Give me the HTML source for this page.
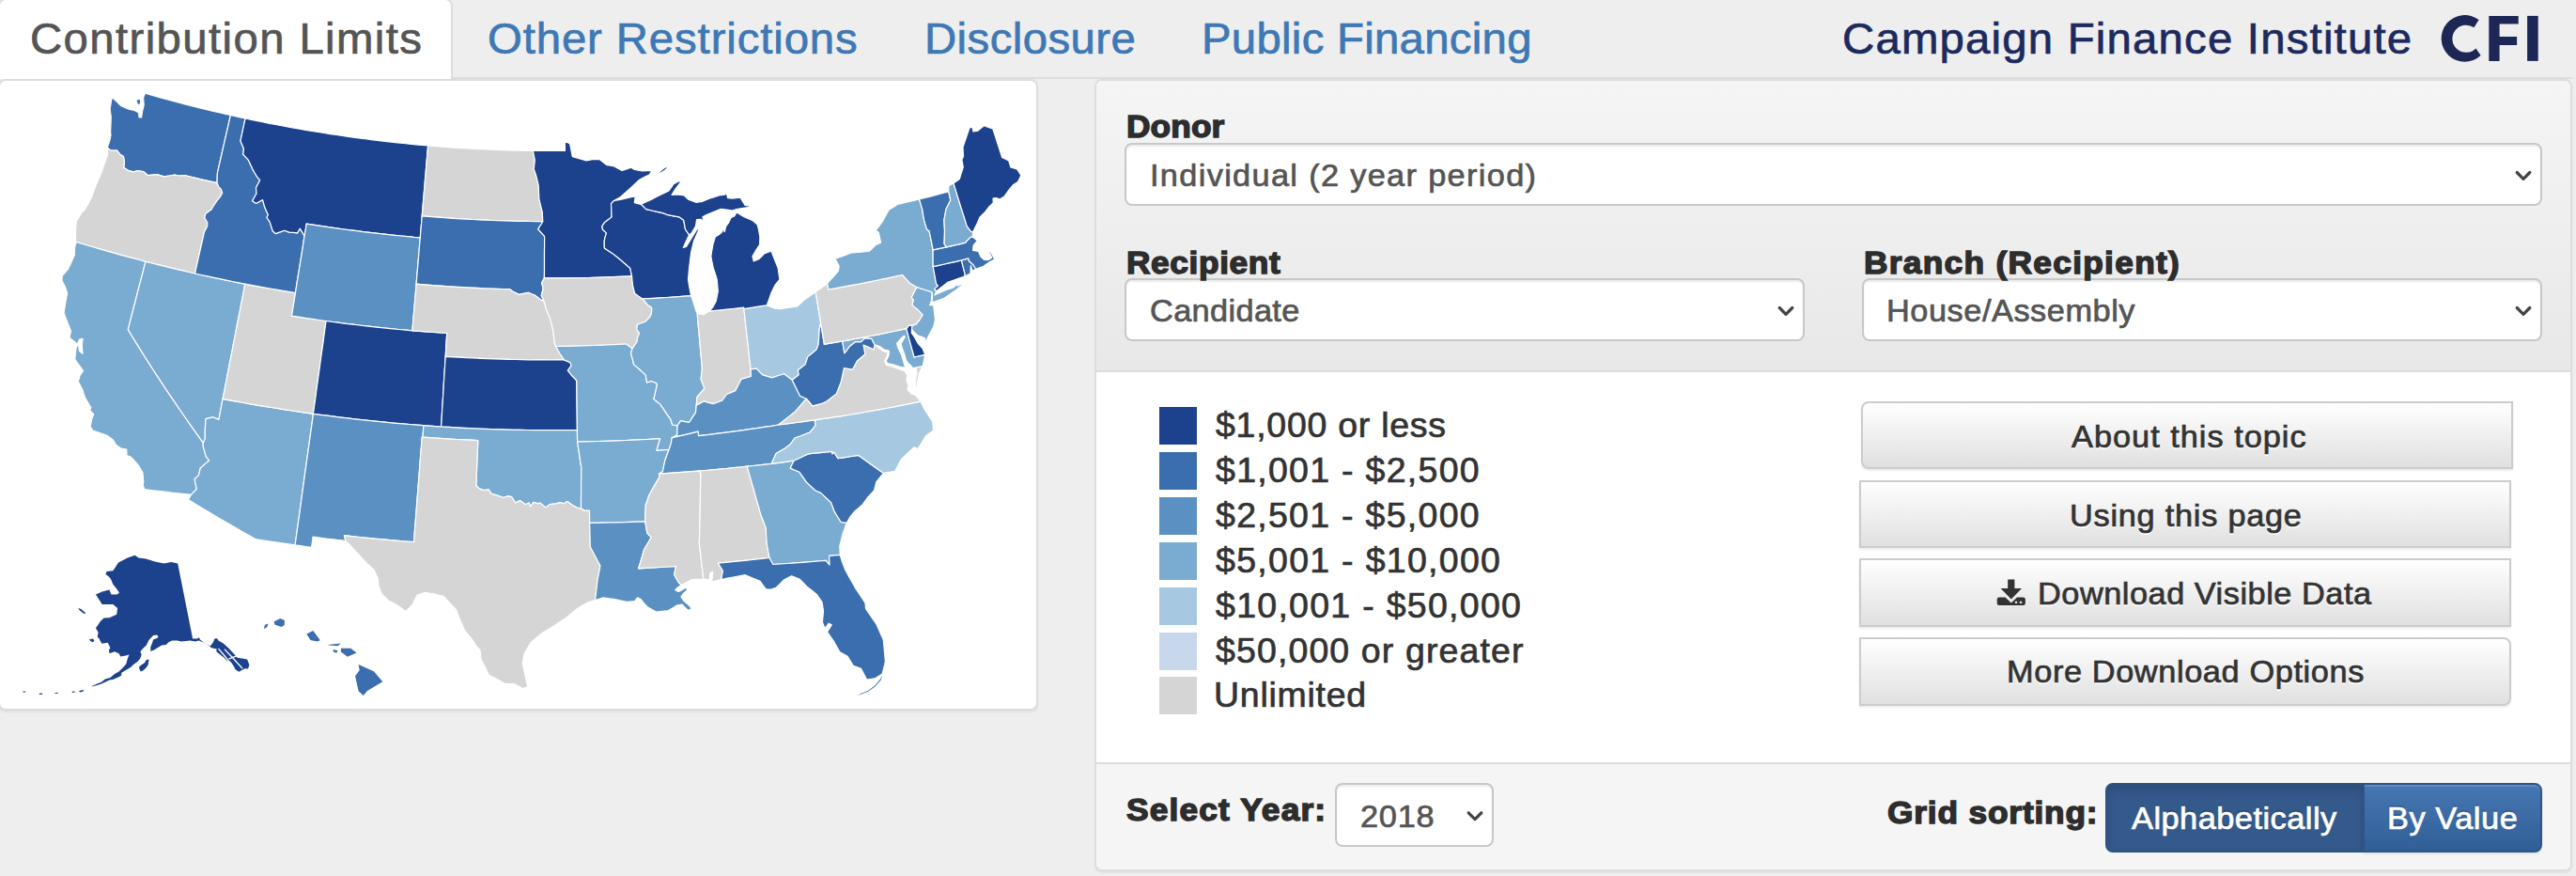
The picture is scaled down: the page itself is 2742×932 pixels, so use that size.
<!DOCTYPE html>
<html><head><meta charset="utf-8"><title>CFI</title>
<style>
*{box-sizing:border-box;margin:0;padding:0}
html,body{width:2742px;height:932px;overflow:hidden;background:#eee;font-family:"Liberation Sans",sans-serif;color:#333}
.abs{position:absolute}
.t{position:absolute;white-space:nowrap;line-height:1;transform-origin:0 0}
#tabline{left:0;top:82px;width:2738px;height:2px;background:#ddd}
#tab1{left:-2px;top:-2px;width:484px;height:86px;background:#fff;border:2px solid #ddd;border-bottom:none;border-radius:8px 8px 0 0}
#mappanel{left:-2px;top:84px;width:1107px;height:672px;background:#fff;border:2px solid #ddd;border-radius:8px;box-shadow:0 2px 2px rgba(0,0,0,.05)}
#rpanel{left:1165px;top:84px;width:1573px;height:843px;background:#fff;border:2px solid #ddd;border-radius:8px;box-shadow:0 2px 2px rgba(0,0,0,.05);overflow:hidden}
#rhead{left:0;top:0;width:1569px;height:310px;background:linear-gradient(#f5f5f5,#e8e8e8);border-bottom:2px solid #ddd}
#rfoot{left:0;top:725px;width:1569px;height:114px;background:#f5f5f5;border-top:2px solid #ddd}
.sel{position:absolute;background:#fff;border:2px solid #c8c8c8;border-radius:8px;box-shadow:inset 0 2px 2px rgba(0,0,0,.075)}
.btn{position:absolute;border:2px solid #ccc;background:linear-gradient(#fff,#e0e0e0);box-shadow:inset 0 2px 0 rgba(255,255,255,.15),0 2px 2px rgba(0,0,0,.075)}
.sw{position:absolute;width:40px;height:40px;left:1234px}
svg{position:absolute;left:0;top:0}
</style></head><body>
<div class="abs" id="tabline"></div>
<div class="abs" id="tab1"></div>
<div class="abs" id="mappanel"></div>
<svg width="1110" height="760" viewBox="0 0 1110 760" stroke="#fff" stroke-width="1.2" stroke-linejoin="round">
<path fill="#3b6eaf" d="M154.4 99.2L152.6 103.7L153.2 111.5L151.5 118.7L150.6 124.8L148.0 124.8L147.7 120.1L143.2 117.5L137.8 116.4L133.4 114.6L129.0 112.8L125.0 108.9L121.0 105.0L119.0 104.1L118.1 109.9L117.1 116.0L118.2 124.1L118.0 131.7L117.6 140.6L118.0 143.3L117.2 148.2L114.3 157.1L117.8 159.9L124.5 160.1L127.8 164.2L131.5 166.6L132.4 172.7L131.7 178.2L137.0 181.7L142.1 182.9L146.0 181.7L152.6 182.5L157.5 186.7L162.4 186.2L167.2 185.7L171.0 186.8L174.7 187.9L180.3 187.0L185.9 186.0L190.9 187.0L196.7 186.6L202.4 188.0L208.1 189.4L213.9 190.8L219.6 192.1L225.3 193.4L231.1 194.7L231.2 189.5L231.4 184.2L233.4 175.3L235.4 166.5L237.4 157.7L239.4 148.9L241.4 140.1L243.4 131.3L245.4 122.5L239.3 121.2L233.2 119.7L227.1 118.3L221.0 116.8L214.9 115.4L208.8 113.8L202.8 112.3L196.7 110.8L190.6 109.2L184.6 107.6L178.5 105.9L172.5 104.3L166.5 102.6L160.4 100.9L154.4 99.2ZM144.7 106.5L149.5 104.9L149.6 110.5L146.7 111.7L144.7 106.5Z"/>
<path fill="#d5d5d5" d="M114.3 157.1L114.7 164.1L112.6 169.9L110.5 175.7L108.3 182.8L105.4 189.4L102.5 196.0L99.8 203.3L97.2 210.5L93.5 217.1L89.8 223.8L87.3 225.6L84.3 230.6L81.2 235.7L80.8 241.3L80.4 246.9L80.3 255.9L81.1 257.5L87.8 259.5L94.5 261.5L101.2 263.5L107.9 265.4L114.6 267.3L121.3 269.2L128.0 271.1L134.7 272.9L141.4 274.7L148.2 276.5L154.9 278.3L161.5 280.0L168.0 281.6L174.6 283.2L181.2 284.8L187.7 286.4L194.3 287.9L200.9 289.5L207.5 291.0L209.5 282.1L211.5 273.2L213.5 264.4L215.5 255.5L217.5 246.6L220.7 240.5L220.8 236.7L217.8 231.7L218.8 227.4L225.2 222.8L226.7 219.8L230.7 213.9L234.4 209.4L236.7 205.3L235.3 201.2L232.7 198.6L231.1 194.7L225.3 193.4L219.6 192.1L213.9 190.8L208.1 189.4L202.4 188.0L196.7 186.6L190.9 187.0L185.9 186.0L180.3 187.0L174.7 187.9L171.0 186.8L167.2 185.7L162.4 186.2L157.5 186.7L152.6 182.5L146.0 181.7L142.1 182.9L137.0 181.7L131.7 178.2L132.4 172.7L131.5 166.6L127.8 164.2L124.5 160.1L117.8 159.9L114.3 157.1Z"/>
<path fill="#7aabd1" d="M81.1 257.5L79.5 263.5L79.4 271.3L77.3 275.8L75.3 280.4L72.6 286.1L69.4 289.8L66.2 293.5L65.9 298.4L69.3 305.1L71.6 311.8L70.0 320.4L69.0 326.6L68.0 332.9L70.0 338.1L72.7 345.1L75.5 352.0L74.0 359.3L79.2 363.4L82.4 366.2L84.5 361.1L88.1 360.3L87.2 367.0L88.0 376.3L84.4 373.2L83.7 367.3L81.8 367.6L80.8 371.7L80.3 377.0L79.8 382.3L82.5 386.0L85.2 389.8L88.5 394.6L85.3 398.8L83.3 406.0L85.5 410.3L87.7 414.5L89.2 419.1L90.8 423.6L93.6 428.3L96.9 433.8L95.5 436.5L99.8 440.7L97.7 446.1L96.1 453.9L98.8 458.0L106.1 460.5L113.5 463.1L117.0 465.6L120.6 468.2L123.5 473.3L128.8 477.2L134.8 478.1L134.9 484.5L139.2 486.1L143.7 491.0L147.5 495.4L152.0 503.1L152.7 512.2L152.3 516.7L153.9 520.6L161.0 521.5L168.1 522.4L175.2 523.2L182.2 524.0L189.3 524.8L196.4 525.6L203.5 526.3L209.3 520.4L208.2 515.1L207.2 509.8L211.5 505.6L213.2 498.3L218.8 493.1L222.7 490.0L219.2 485.6L217.7 480.2L216.2 474.8L216.3 471.1L211.3 464.1L206.3 457.1L201.3 450.1L196.4 443.0L191.5 436.0L186.7 428.9L181.9 421.9L177.1 414.8L172.4 407.7L167.7 400.6L163.1 393.5L158.5 386.4L154.0 379.2L149.5 372.1L145.0 364.9L140.6 357.8L136.3 350.6L138.6 341.6L140.9 332.5L143.3 323.5L145.6 314.4L147.9 305.4L150.3 296.3L152.6 287.3L154.9 278.3L148.2 276.5L141.4 274.7L134.7 272.9L128.0 271.1L121.3 269.2L114.6 267.3L107.9 265.4L101.2 263.5L94.5 261.5L87.8 259.5L81.1 257.5Z"/>
<path fill="#7aabd1" d="M154.9 278.3L152.6 287.3L150.3 296.3L147.9 305.4L145.6 314.4L143.3 323.5L140.9 332.5L138.6 341.6L136.3 350.6L140.6 357.8L145.0 364.9L149.5 372.1L154.0 379.2L158.5 386.4L163.1 393.5L167.7 400.6L172.4 407.7L177.1 414.8L181.9 421.9L186.7 428.9L191.5 436.0L196.4 443.0L201.3 450.1L206.3 457.1L211.3 464.1L216.3 471.1L218.3 467.1L218.3 461.7L218.3 456.2L218.7 451.0L219.1 445.7L226.4 443.8L232.9 446.4L234.3 439.0L235.7 431.7L237.1 424.4L239.0 414.9L240.8 405.5L242.6 396.1L244.4 386.7L246.3 377.3L248.1 367.9L249.9 358.5L251.7 349.1L253.5 339.7L255.4 330.3L257.2 320.9L259.0 311.5L260.8 302.1L254.1 300.8L247.5 299.5L240.8 298.1L234.1 296.7L227.5 295.3L220.8 293.9L214.2 292.5L207.5 291.0L200.9 289.5L194.3 287.9L187.7 286.4L181.2 284.8L174.6 283.2L168.0 281.6L161.5 280.0L154.9 278.3Z"/>
<path fill="#7aabd1" d="M237.1 424.4L235.7 431.7L234.3 439.0L232.9 446.4L226.4 443.8L219.1 445.7L218.7 451.0L218.3 456.2L218.3 461.7L218.3 467.1L216.3 471.1L216.2 474.8L217.7 480.2L219.2 485.6L222.7 490.0L218.8 493.1L213.2 498.3L211.5 505.6L207.2 509.8L208.2 515.1L209.3 520.4L203.5 526.3L200.5 531.5L207.5 535.9L214.6 540.2L221.7 544.5L228.8 548.7L236.0 552.9L243.2 557.1L250.4 561.3L257.6 565.5L264.9 569.6L272.2 573.7L279.2 574.8L286.1 575.9L293.1 576.9L300.1 577.9L307.1 578.9L314.1 579.9L315.4 570.6L316.7 561.4L318.0 552.1L319.3 542.8L320.6 533.5L321.8 524.2L323.1 514.9L324.4 505.5L325.7 496.2L327.0 486.9L328.3 477.6L329.6 468.2L330.9 458.9L332.2 449.6L333.4 440.3L326.0 439.2L318.6 438.1L311.1 437.0L303.7 435.9L296.3 434.7L288.9 433.5L281.5 432.3L274.1 431.1L266.7 429.8L259.3 428.5L251.9 427.1L244.5 425.8L237.1 424.4Z"/>
<path fill="#d5d5d5" d="M237.1 424.4L244.5 425.8L251.9 427.1L259.3 428.5L266.7 429.8L274.1 431.1L281.5 432.3L288.9 433.5L296.3 434.7L303.7 435.9L311.1 437.0L318.6 438.1L326.0 439.2L333.4 440.3L334.8 430.4L336.2 420.5L337.5 410.6L338.9 400.7L340.3 390.9L341.6 381.0L343.0 371.1L344.4 361.3L345.7 351.4L347.1 341.5L339.8 340.5L332.5 339.4L325.1 338.4L317.8 337.2L310.5 336.1L311.8 327.9L313.2 319.7L314.5 311.5L307.7 310.4L301.0 309.3L294.3 308.2L287.6 307.0L280.9 305.8L274.2 304.6L267.5 303.4L260.8 302.1L259.0 311.5L257.2 320.9L255.4 330.3L253.5 339.7L251.7 349.1L249.9 358.5L248.1 367.9L246.3 377.3L244.4 386.7L242.6 396.1L240.8 405.5L239.0 414.9L237.1 424.4Z"/>
<path fill="#3b6eaf" d="M245.4 122.5L250.6 123.7L255.9 124.9L261.1 126.0L259.4 133.9L257.7 141.9L256.0 149.9L257.7 154.0L259.4 158.1L258.9 164.3L261.7 167.4L264.5 170.4L266.6 175.0L268.7 179.6L271.0 183.7L273.4 187.8L276.7 191.7L272.5 199.7L273.0 206.0L268.6 213.7L272.7 216.5L276.1 214.6L279.6 212.6L281.7 220.3L283.5 224.4L285.4 228.5L284.0 231.5L287.2 236.1L288.7 240.9L290.3 245.7L293.3 248.6L298.1 246.9L302.8 245.2L307.9 247.1L312.3 247.4L316.6 247.8L319.2 243.2L322.0 247.4L324.1 251.0L322.7 259.6L321.4 268.3L320.0 276.9L318.6 285.5L317.2 294.2L315.8 302.9L314.5 311.5L307.7 310.4L301.0 309.3L294.3 308.2L287.6 307.0L280.9 305.8L274.2 304.6L267.5 303.4L260.8 302.1L254.1 300.8L247.5 299.5L240.8 298.1L234.1 296.7L227.5 295.3L220.8 293.9L214.2 292.5L207.5 291.0L209.5 282.1L211.5 273.2L213.5 264.4L215.5 255.5L217.5 246.6L220.7 240.5L220.8 236.7L217.8 231.7L218.8 227.4L225.2 222.8L226.7 219.8L230.7 213.9L234.4 209.4L236.7 205.3L235.3 201.2L232.7 198.6L231.1 194.7L231.2 189.5L231.4 184.2L233.4 175.3L235.4 166.5L237.4 157.7L239.4 148.9L241.4 140.1L243.4 131.3L245.4 122.5Z"/>
<path fill="#1c418d" d="M261.1 126.0L267.5 127.3L273.9 128.7L280.4 130.0L286.8 131.3L293.2 132.5L299.7 133.7L306.1 134.9L312.6 136.1L319.0 137.2L325.5 138.4L332.0 139.5L338.4 140.5L344.9 141.5L351.4 142.6L357.9 143.5L364.4 144.5L370.9 145.4L377.4 146.3L383.9 147.2L390.4 148.0L396.9 148.8L403.4 149.6L409.9 150.4L416.4 151.1L422.9 151.8L429.5 152.5L436.0 153.2L442.5 153.8L449.1 154.4L455.6 154.9L454.8 164.3L454.0 173.6L453.2 182.9L452.4 192.3L451.6 201.7L450.8 211.0L450.0 220.4L449.2 229.8L448.6 237.5L447.9 245.2L447.3 252.8L440.5 252.3L433.8 251.6L427.0 251.0L420.3 250.3L413.5 249.6L406.8 248.9L400.1 248.2L393.3 247.4L386.6 246.6L379.9 245.7L373.1 244.9L366.4 244.0L359.7 243.1L353.0 242.1L346.3 241.1L339.6 240.1L332.9 239.1L326.2 238.1L325.2 244.5L324.1 251.0L322.0 247.4L319.2 243.2L316.6 247.8L312.3 247.4L307.9 247.1L302.8 245.2L298.1 246.9L293.3 248.6L290.3 245.7L288.7 240.9L287.2 236.1L284.0 231.5L285.4 228.5L283.5 224.4L281.7 220.3L279.6 212.6L276.1 214.6L272.7 216.5L268.6 213.7L273.0 206.0L272.5 199.7L276.7 191.7L273.4 187.8L271.0 183.7L268.7 179.6L266.6 175.0L264.5 170.4L261.7 167.4L258.9 164.3L259.4 158.1L257.7 154.0L256.0 149.9L257.7 141.9L259.4 133.9L261.1 126.0Z"/>
<path fill="#5a90c2" d="M324.1 251.0L325.2 244.5L326.2 238.1L332.9 239.1L339.6 240.1L346.3 241.1L353.0 242.1L359.7 243.1L366.4 244.0L373.1 244.9L379.9 245.7L386.6 246.6L393.3 247.4L400.1 248.2L406.8 248.9L413.5 249.6L420.3 250.3L427.0 251.0L433.8 251.6L440.5 252.3L447.3 252.8L446.4 262.7L445.6 272.6L444.8 282.4L443.9 292.3L443.1 302.2L442.3 312.1L441.4 322.0L440.6 331.9L439.7 341.8L438.9 351.8L431.8 351.1L424.7 350.5L417.7 349.8L410.6 349.1L403.5 348.4L396.5 347.6L389.4 346.8L382.3 346.0L375.3 345.2L368.2 344.3L361.2 343.4L354.1 342.5L347.1 341.5L339.8 340.5L332.5 339.4L325.1 338.4L317.8 337.2L310.5 336.1L311.8 327.9L313.2 319.7L314.5 311.5L315.8 302.9L317.2 294.2L318.6 285.5L320.0 276.9L321.4 268.3L322.7 259.6L324.1 251.0Z"/>
<path fill="#1c418d" d="M347.1 341.5L354.1 342.5L361.2 343.4L368.2 344.3L375.3 345.2L382.3 346.0L389.4 346.8L396.5 347.6L403.5 348.4L410.6 349.1L417.7 349.8L424.7 350.5L431.8 351.1L438.9 351.8L446.3 352.4L453.6 352.9L461.0 353.5L468.4 354.0L475.7 354.5L475.2 362.8L474.7 371.1L474.2 379.3L473.6 388.7L473.0 398.0L472.4 407.3L471.9 416.7L471.3 426.0L470.7 435.3L470.2 444.6L469.6 454.0L463.4 453.6L457.1 453.1L450.9 452.7L443.5 452.1L436.2 451.5L428.8 450.9L421.5 450.3L414.1 449.6L406.8 448.9L399.4 448.2L392.1 447.4L384.7 446.6L377.4 445.8L370.1 444.9L362.7 444.1L355.4 443.2L348.1 442.2L340.8 441.3L333.4 440.3L334.8 430.4L336.2 420.5L337.5 410.6L338.9 400.7L340.3 390.9L341.6 381.0L343.0 371.1L344.4 361.3L345.7 351.4L347.1 341.5Z"/>
<path fill="#5a90c2" d="M333.4 440.3L340.8 441.3L348.1 442.2L355.4 443.2L362.7 444.1L370.1 444.9L377.4 445.8L384.7 446.6L392.1 447.4L399.4 448.2L406.8 448.9L414.1 449.6L421.5 450.3L428.8 450.9L436.2 451.5L443.5 452.1L450.9 452.7L450.4 458.9L450.0 465.1L449.2 465.1L448.5 474.4L447.7 483.7L447.0 493.0L446.3 502.3L445.6 511.6L444.8 520.9L444.1 530.2L443.4 539.5L442.7 548.8L441.9 558.1L441.2 567.4L440.5 576.6L432.3 576.0L424.0 575.4L415.8 574.7L407.5 573.9L399.3 573.2L391.1 572.3L382.9 571.5L374.7 570.6L366.4 569.7L367.9 575.4L360.9 574.6L354.0 573.8L347.0 573.0L340.0 572.1L333.1 571.2L332.4 576.7L331.6 582.3L325.8 581.5L320.0 580.7L314.1 579.9L315.4 570.6L316.7 561.4L318.0 552.1L319.3 542.8L320.6 533.5L321.8 524.2L323.1 514.9L324.4 505.5L325.7 496.2L327.0 486.9L328.3 477.6L329.6 468.2L330.9 458.9L332.2 449.6L333.4 440.3Z"/>
<path fill="#d5d5d5" d="M455.6 154.9L461.8 155.5L468.0 155.9L474.2 156.4L480.4 156.9L486.6 157.3L492.8 157.7L499.0 158.0L505.2 158.4L511.4 158.7L517.6 159.0L523.8 159.2L530.0 159.5L536.2 159.7L542.4 159.9L548.6 160.1L554.8 160.2L561.1 160.3L567.3 160.4L568.3 165.3L569.3 170.2L568.8 175.1L568.3 180.0L570.8 187.3L572.0 192.2L573.2 197.2L573.5 204.5L573.9 211.9L575.5 218.7L577.2 225.4L577.5 230.6L577.8 235.7L571.0 235.6L564.3 235.5L557.5 235.4L550.7 235.3L543.9 235.1L537.2 234.9L530.4 234.7L523.6 234.5L516.9 234.2L510.1 233.9L503.3 233.5L496.6 233.2L489.8 232.8L483.0 232.4L476.3 231.9L469.5 231.4L462.7 230.9L456.0 230.4L449.2 229.8L450.0 220.4L450.8 211.0L451.6 201.7L452.4 192.3L453.2 182.9L454.0 173.6L454.8 164.3L455.6 154.9Z"/>
<path fill="#3b6eaf" d="M449.2 229.8L456.0 230.4L462.7 230.9L469.5 231.4L476.3 231.9L483.0 232.4L489.8 232.8L496.6 233.2L503.3 233.5L510.1 233.9L516.9 234.2L523.6 234.5L530.4 234.7L537.2 234.9L543.9 235.1L550.7 235.3L557.5 235.4L564.3 235.5L571.0 235.6L577.8 235.7L575.3 239.8L572.8 243.9L576.2 247.6L579.6 251.4L579.6 260.3L579.5 269.2L579.5 278.1L579.5 287.0L579.4 295.9L576.7 300.9L578.1 307.1L576.3 314.5L579.3 321.0L574.8 318.2L569.4 314.2L565.8 312.8L562.3 311.4L557.3 312.4L552.3 313.4L546.1 310.3L542.6 307.7L535.4 307.5L528.3 307.3L521.2 307.0L514.1 306.8L507.0 306.4L499.9 306.1L492.8 305.7L485.7 305.3L478.6 304.9L471.5 304.4L464.4 303.9L457.3 303.4L450.2 302.8L443.1 302.2L443.9 292.3L444.8 282.4L445.6 272.6L446.4 262.7L447.3 252.8L447.9 245.2L448.6 237.5L449.2 229.8Z"/>
<path fill="#d5d5d5" d="M443.1 302.2L450.2 302.8L457.3 303.4L464.4 303.9L471.5 304.4L478.6 304.9L485.7 305.3L492.8 305.7L499.9 306.1L507.0 306.4L514.1 306.8L521.2 307.0L528.3 307.3L535.4 307.5L542.6 307.7L546.1 310.3L552.3 313.4L557.3 312.4L562.3 311.4L565.8 312.8L569.4 314.2L574.8 318.2L579.3 321.0L581.1 328.2L583.2 333.2L585.2 338.1L587.4 345.6L588.9 353.1L589.6 358.7L590.2 364.3L591.7 368.5L595.8 376.0L600.4 382.9L592.9 382.9L585.5 383.0L578.1 382.9L570.7 382.9L563.2 382.8L555.8 382.7L548.4 382.5L540.9 382.3L533.5 382.1L526.1 381.9L518.7 381.6L511.2 381.3L503.8 381.0L496.4 380.6L489.0 380.2L481.6 379.8L474.2 379.3L474.7 371.1L475.2 362.8L475.7 354.5L468.4 354.0L461.0 353.5L453.6 352.9L446.3 352.4L438.9 351.8L439.7 341.8L440.6 331.9L441.4 322.0L442.3 312.1L443.1 302.2Z"/>
<path fill="#1c418d" d="M474.2 379.3L481.6 379.8L489.0 380.2L496.4 380.6L503.8 381.0L511.2 381.3L518.7 381.6L526.1 381.9L533.5 382.1L540.9 382.3L548.4 382.5L555.8 382.7L563.2 382.8L570.7 382.9L578.1 382.9L585.5 383.0L592.9 382.9L600.4 382.9L607.1 385.8L608.1 389.1L604.4 394.1L608.2 399.0L613.8 404.9L613.9 413.7L614.0 422.5L614.1 431.2L614.2 440.0L614.3 448.8L614.4 457.5L606.8 457.6L599.1 457.7L591.5 457.7L583.9 457.7L576.3 457.7L568.6 457.6L561.0 457.5L553.4 457.4L545.8 457.3L538.1 457.1L530.5 456.8L522.9 456.6L515.3 456.3L507.7 456.0L500.0 455.7L492.4 455.3L484.8 454.9L477.2 454.4L469.6 454.0L470.2 444.6L470.7 435.3L471.3 426.0L471.9 416.7L472.4 407.3L473.0 398.0L473.6 388.7L474.2 379.3Z"/>
<path fill="#7aabd1" d="M469.6 454.0L477.2 454.4L484.8 454.9L492.4 455.3L500.0 455.7L507.7 456.0L515.3 456.3L522.9 456.6L530.5 456.8L538.1 457.1L545.8 457.3L553.4 457.4L561.0 457.5L568.6 457.6L576.3 457.7L583.9 457.7L591.5 457.7L599.1 457.7L606.8 457.6L614.4 457.5L614.5 463.8L614.6 470.0L616.0 479.2L617.3 488.4L618.8 497.6L618.7 506.3L618.6 515.0L618.6 523.7L618.5 532.4L618.5 541.1L614.2 540.0L609.4 537.5L603.7 533.6L599.9 535.9L596.6 534.6L591.7 535.9L585.4 536.7L580.7 539.9L575.0 535.1L572.6 535.9L567.9 534.3L564.6 539.0L563.0 535.0L559.1 536.7L553.5 532.6L548.6 535.0L544.7 528.7L540.6 527.9L535.9 529.5L529.5 527.1L523.1 525.4L520.0 520.8L515.1 521.6L510.3 519.9L506.8 516.8L507.2 507.2L507.6 497.5L508.0 487.8L508.4 478.2L508.8 468.5L501.5 468.2L494.1 467.8L486.8 467.5L479.4 467.1L472.0 466.6L464.7 466.1L457.3 465.6L450.0 465.1L450.4 458.9L450.9 452.7L457.1 453.1L463.4 453.6L469.6 454.0Z"/>
<path fill="#d5d5d5" d="M450.0 465.1L457.3 465.6L464.7 466.1L472.0 466.6L479.4 467.1L486.8 467.5L494.1 467.8L501.5 468.2L508.8 468.5L508.4 478.2L508.0 487.8L507.6 497.5L507.2 507.2L506.8 516.8L510.3 519.9L515.1 521.6L520.0 520.8L523.1 525.4L529.5 527.1L535.9 529.5L540.6 527.9L544.7 528.7L548.6 535.0L553.5 532.6L559.1 536.7L563.0 535.0L564.6 539.0L567.9 534.3L572.6 535.9L575.0 535.1L580.7 539.9L585.4 536.7L591.7 535.9L596.6 534.6L599.9 535.9L603.7 533.6L609.4 537.5L614.2 540.0L618.5 541.1L622.2 543.1L627.5 543.2L627.6 549.8L627.7 556.4L627.9 564.9L628.1 573.4L628.3 581.9L630.9 586.7L633.5 591.5L636.2 596.8L639.0 602.0L637.6 609.1L636.2 616.2L635.3 623.6L634.4 631.1L633.5 638.5L629.3 639.8L625.0 641.2L619.9 644.2L614.8 647.2L608.6 652.4L602.4 657.5L596.2 661.6L590.0 665.7L584.0 669.4L577.9 673.0L571.6 678.2L565.3 683.3L561.7 689.4L558.1 695.5L557.2 700.6L556.2 705.8L557.6 711.9L558.9 718.1L560.3 724.4L561.7 730.8L556.3 732.5L552.2 730.2L548.1 727.9L542.9 727.7L537.8 727.5L533.2 724.9L528.5 722.3L524.4 720.2L520.2 718.2L517.1 711.0L514.6 706.3L512.1 701.7L511.5 696.6L510.9 691.6L506.9 687.3L504.3 683.2L501.7 679.2L498.2 675.1L494.6 671.0L492.0 664.8L489.3 658.7L487.3 653.5L485.3 648.3L479.2 642.1L475.6 638.2L472.1 634.3L467.4 633.3L462.8 632.2L457.6 631.3L452.4 630.3L444.2 633.0L441.6 638.1L439.0 643.3L435.5 646.9L432.0 650.4L426.8 646.8L421.7 643.2L417.6 641.1L413.4 639.0L409.8 635.5L406.3 632.0L403.1 623.7L402.2 615.5L400.1 610.8L397.9 606.1L394.4 603.0L390.9 600.0L385.7 594.4L380.6 588.7L376.4 584.2L372.3 579.6L367.9 575.4L366.4 569.7L374.7 570.6L382.9 571.5L391.1 572.3L399.3 573.2L407.5 573.9L415.8 574.7L424.0 575.4L432.3 576.0L440.5 576.6L441.2 567.4L441.9 558.1L442.7 548.8L443.4 539.5L444.1 530.2L444.8 520.9L445.6 511.6L446.3 502.3L447.0 493.0L447.7 483.7L448.5 474.4L449.2 465.1L450.0 465.1Z"/>
<path fill="#1c418d" d="M567.3 160.4L573.0 160.5L578.6 160.5L584.3 160.5L590.0 160.5L595.7 160.5L601.4 160.5L601.3 151.2L604.6 151.7L606.7 153.1L608.0 159.9L609.3 166.7L612.8 167.6L616.3 168.6L620.0 169.7L623.8 170.8L627.1 170.3L630.3 169.7L634.2 169.6L638.1 169.5L641.7 172.4L645.4 175.3L649.6 176.2L653.8 177.0L657.9 179.2L662.1 181.5L666.9 179.9L671.8 178.3L674.7 180.1L679.2 181.1L683.6 182.0L688.8 181.7L694.0 181.4L691.4 185.7L686.2 188.4L681.0 191.0L675.9 195.7L670.8 200.4L665.7 205.0L660.6 209.5L657.1 211.5L653.6 213.5L650.5 216.6L650.8 223.8L651.1 230.9L648.4 233.0L643.4 236.8L640.9 240.6L641.5 244.3L645.5 247.9L643.9 252.9L643.2 256.6L643.4 264.0L647.9 267.0L652.4 269.9L656.0 272.8L659.7 275.8L665.2 280.5L670.7 285.2L672.6 293.8L665.9 294.1L659.3 294.4L652.6 294.7L646.0 294.9L639.3 295.1L632.7 295.3L626.0 295.5L619.4 295.6L612.7 295.7L606.1 295.8L599.4 295.9L592.7 295.9L586.1 295.9L579.4 295.9L579.5 287.0L579.5 278.1L579.5 269.2L579.6 260.3L579.6 251.4L576.2 247.6L572.8 243.9L575.3 239.8L577.8 235.7L577.5 230.6L577.2 225.4L575.5 218.7L573.9 211.9L573.5 204.5L573.2 197.2L572.0 192.2L570.8 187.3L568.3 180.0L568.8 175.1L569.3 170.2L568.3 165.3L567.3 160.4Z"/>
<path fill="#d5d5d5" d="M579.4 295.9L586.1 295.9L592.7 295.9L599.4 295.9L606.1 295.8L612.7 295.7L619.4 295.6L626.0 295.5L632.7 295.3L639.3 295.1L646.0 294.9L652.6 294.7L659.3 294.4L665.9 294.1L672.6 293.8L673.0 298.7L673.5 303.7L675.7 312.3L679.8 315.2L684.0 318.0L689.0 324.0L693.8 327.4L693.4 333.9L691.6 337.5L686.8 342.3L682.6 343.8L678.5 345.2L677.7 350.7L680.6 354.3L678.2 360.7L678.3 363.2L675.7 367.0L673.1 370.9L666.7 366.0L659.9 366.3L653.1 366.7L646.3 367.0L639.5 367.3L632.7 367.5L625.8 367.7L619.0 368.0L612.2 368.1L605.4 368.3L598.5 368.4L591.7 368.5L590.2 364.3L589.6 358.7L588.9 353.1L587.4 345.6L585.2 338.1L583.2 333.2L581.1 328.2L579.3 321.0L576.3 314.5L578.1 307.1L576.7 300.9L579.4 295.9Z"/>
<path fill="#7aabd1" d="M591.7 368.5L598.5 368.4L605.4 368.3L612.2 368.1L619.0 368.0L625.8 367.7L632.7 367.5L639.5 367.3L646.3 367.0L653.1 366.7L659.9 366.3L666.7 366.0L673.1 370.9L671.5 376.0L673.5 382.6L674.5 387.6L680.8 393.0L684.0 395.9L687.2 398.9L688.6 406.8L693.3 405.5L698.1 407.2L699.4 409.1L698.5 413.7L697.2 419.1L695.9 424.6L699.5 427.5L703.0 430.4L706.6 435.6L710.1 440.8L713.7 445.9L715.7 452.0L721.1 452.9L720.9 457.9L720.8 462.9L715.1 465.8L714.5 470.9L712.0 478.5L705.4 478.9L698.8 479.3L700.6 473.0L702.4 466.6L695.0 467.1L687.7 467.5L680.4 467.9L673.1 468.2L665.8 468.5L658.5 468.8L651.2 469.1L643.8 469.3L636.5 469.5L629.2 469.7L621.9 469.9L614.6 470.0L614.5 463.8L614.4 457.5L614.3 448.8L614.2 440.0L614.1 431.2L614.0 422.5L613.9 413.7L613.8 404.9L608.2 399.0L604.4 394.1L608.1 389.1L607.1 385.8L600.4 382.9L595.8 376.0L591.7 368.5Z"/>
<path fill="#7aabd1" d="M614.6 470.0L621.9 469.9L629.2 469.7L636.5 469.5L643.8 469.3L651.2 469.1L658.5 468.8L665.8 468.5L673.1 468.2L680.4 467.9L687.7 467.5L695.0 467.1L702.4 466.6L700.6 473.0L698.8 479.3L705.4 478.9L712.0 478.5L709.9 484.3L707.8 490.0L706.6 495.7L705.5 501.4L701.7 504.1L701.9 507.8L699.1 512.4L696.4 516.9L693.6 522.0L690.8 527.2L689.1 532.2L687.3 537.3L687.1 542.3L686.8 547.3L686.8 554.8L679.4 555.1L672.0 555.3L664.6 555.6L657.3 555.8L649.9 556.0L642.5 556.1L635.1 556.3L627.7 556.4L627.6 549.8L627.5 543.2L622.2 543.1L618.5 541.1L618.5 532.4L618.6 523.7L618.6 515.0L618.7 506.3L618.8 497.6L617.3 488.4L616.0 479.2L614.6 470.0Z"/>
<path fill="#5a90c2" d="M627.7 556.4L635.1 556.3L642.5 556.1L649.9 556.0L657.3 555.8L664.6 555.6L672.0 555.3L679.4 555.1L686.8 554.8L687.8 560.9L688.8 567.1L693.2 571.8L689.4 578.2L685.6 584.6L683.8 590.9L682.0 597.2L679.6 604.8L687.6 604.4L695.6 604.0L703.6 603.5L711.6 603.0L719.6 602.5L717.6 611.3L720.0 615.5L722.4 619.7L725.2 622.5L721.5 625.0L718.7 627.6L722.2 629.4L726.0 627.6L730.5 624.8L731.6 627.7L727.7 631.2L725.0 634.9L727.9 639.4L734.3 644.9L736.0 647.7L732.4 649.5L726.0 643.2L720.4 644.1L715.9 646.9L711.5 649.6L705.0 650.4L698.6 651.1L694.0 648.5L689.5 645.9L685.8 642.3L682.2 637.6L678.4 635.8L675.8 639.6L667.5 640.4L661.1 639.1L654.7 637.7L648.4 636.8L642.0 635.8L637.8 637.2L633.5 638.5L634.4 631.1L635.3 623.6L636.2 616.2L637.6 609.1L639.0 602.0L636.2 596.8L633.5 591.5L630.9 586.7L628.3 581.9L628.1 573.4L627.9 564.9L627.7 556.4Z"/>
<path fill="#1c418d" d="M653.6 213.5L657.1 212.9L660.5 212.3L665.6 211.2L670.8 210.0L676.3 208.8L675.3 215.7L680.1 216.9L682.4 217.3L687.8 222.6L693.7 224.0L699.7 225.3L705.6 226.6L710.9 228.7L717.0 229.8L723.1 230.9L727.7 234.2L728.6 239.1L729.5 244.0L733.5 249.9L730.5 256.3L727.3 263.5L730.5 262.5L733.6 257.4L736.7 252.3L739.2 248.2L741.7 244.1L744.4 241.4L742.9 246.5L740.8 251.4L738.6 256.3L737.1 262.4L735.6 268.5L734.6 276.8L733.6 285.1L733.0 291.3L732.5 297.4L733.5 303.6L734.6 309.7L735.6 314.6L729.1 315.1L722.7 315.6L716.2 316.1L709.8 316.5L703.3 316.9L696.9 317.3L690.4 317.7L684.0 318.0L679.8 315.2L675.7 312.3L673.5 303.7L673.0 298.7L672.6 293.8L670.7 285.2L665.2 280.5L659.7 275.8L656.0 272.8L652.4 269.9L647.9 267.0L643.4 264.0L643.2 256.6L643.9 252.9L645.5 247.9L641.5 244.3L640.9 240.6L643.4 236.8L648.4 233.0L651.1 230.9L650.8 223.8L650.5 216.6L653.6 213.5Z"/>
<path fill="#7aabd1" d="M684.0 318.0L690.4 317.7L696.9 317.3L703.3 316.9L709.8 316.5L716.2 316.1L722.7 315.6L729.1 315.1L735.6 314.6L738.2 322.1L740.6 330.1L742.2 333.5L743.0 343.2L743.9 353.0L744.8 362.7L745.6 372.5L746.5 382.3L747.4 392.0L746.7 397.7L746.1 403.4L748.0 408.2L749.8 413.1L745.9 417.8L742.0 422.5L741.2 431.3L740.5 438.9L737.0 444.2L733.5 449.5L729.1 448.6L724.6 447.6L721.1 452.9L715.7 452.0L713.7 445.9L710.1 440.8L706.6 435.6L703.0 430.4L699.5 427.5L695.9 424.6L697.2 419.1L698.5 413.7L699.4 409.1L698.1 407.2L693.3 405.5L688.6 406.8L687.2 398.9L684.0 395.9L680.8 393.0L674.5 387.6L673.5 382.6L671.5 376.0L673.1 370.9L675.7 367.0L678.3 363.2L678.2 360.7L680.6 354.3L677.7 350.7L678.5 345.2L682.6 343.8L686.8 342.3L691.6 337.5L693.4 333.9L693.8 327.4L689.0 324.0L684.0 318.0Z"/>
<path fill="#d5d5d5" d="M742.2 333.5L748.3 334.9L751.7 333.0L755.0 331.0L761.1 330.4L767.2 329.8L773.3 329.2L779.4 328.5L785.6 327.8L791.7 327.1L791.8 328.6L792.9 337.8L793.9 346.9L794.9 356.1L796.0 365.3L797.0 374.5L798.0 383.7L799.1 392.9L799.4 400.4L794.3 401.9L789.2 403.3L786.0 409.5L782.8 415.6L778.2 417.6L773.6 419.5L768.5 426.3L763.8 428.0L759.1 429.7L754.1 428.3L749.1 426.9L745.2 429.1L741.2 431.3L742.0 422.5L745.9 417.8L749.8 413.1L748.0 408.2L746.1 403.4L746.7 397.7L747.4 392.0L746.5 382.3L745.6 372.5L744.8 362.7L743.9 353.0L743.0 343.2L742.2 333.5Z"/>
<path fill="#a6c8e0" d="M791.8 328.6L798.0 327.7L804.1 326.7L810.2 325.7L816.3 324.8L820.6 326.4L825.0 328.1L830.6 328.6L837.0 327.7L843.3 326.7L848.8 325.9L852.8 322.1L856.9 318.4L862.6 314.6L868.2 310.8L869.6 319.0L870.9 327.2L872.3 335.4L873.6 343.7L872.2 349.9L871.7 358.2L871.1 366.5L869.1 371.9L864.5 375.8L859.8 379.6L857.2 387.6L853.3 390.7L849.4 393.8L850.2 398.7L846.7 401.5L843.2 404.3L838.9 401.0L834.6 397.7L828.1 399.8L821.7 401.9L816.7 400.4L811.7 398.9L808.4 395.6L805.1 392.2L799.1 392.9L798.0 383.7L797.0 374.5L796.0 365.3L794.9 356.1L793.9 346.9L792.9 337.8L791.8 328.6L791.7 327.1Z"/>
<path fill="#1c418d" d="M755.0 331.0L758.6 327.2L762.3 320.1L763.3 315.0L764.3 309.9L763.8 303.7L763.2 297.5L761.3 291.3L759.3 285.2L758.0 279.0L756.8 272.7L757.8 266.5L758.9 260.3L761.3 252.1L765.8 249.2L768.8 246.6L769.4 242.5L771.3 246.6L772.7 240.9L775.6 236.9L778.1 231.6L781.9 229.7L783.9 226.0L788.0 228.3L792.1 230.7L796.7 232.7L801.3 234.7L806.1 238.8L807.5 244.1L808.9 252.2L808.6 260.4L804.4 266.7L800.9 272.7L802.3 278.0L807.6 275.8L810.7 272.8L813.8 269.7L817.3 268.4L820.9 267.0L824.0 274.8L826.0 279.9L828.1 285.0L829.0 291.1L829.9 297.3L824.9 303.5L822.9 307.7L820.9 311.8L818.8 317.9L816.3 324.8L810.2 325.7L804.1 326.7L798.0 327.7L791.8 328.6L791.7 327.1L785.6 327.8L779.4 328.5L773.3 329.2L767.2 329.8L761.1 330.4L755.0 331.0ZM682.4 217.3L687.9 214.7L693.5 212.1L699.6 209.0L705.8 205.9L712.0 202.9L714.5 199.3L717.0 195.6L722.2 193.0L725.4 192.7L722.2 196.8L719.1 200.9L715.1 207.4L720.1 207.0L724.3 207.5L728.4 208.0L732.5 212.1L736.6 213.7L740.7 215.3L744.3 214.8L747.9 214.3L751.5 212.7L755.1 211.1L760.3 209.6L765.4 208.0L771.6 207.1L773.5 205.6L774.6 210.7L779.8 211.1L783.9 210.6L787.9 210.1L790.5 214.2L793.1 218.4L796.7 218.9L800.4 219.4L796.2 220.7L790.1 221.6L784.0 222.5L779.8 224.0L773.6 223.2L767.4 222.4L761.2 224.8L755.1 227.2L751.5 228.9L747.8 230.7L749.5 235.5L745.8 233.3L741.6 233.7L740.5 240.5L736.4 247.6L733.5 249.9L729.5 244.0L728.6 239.1L727.7 234.2L723.1 230.9L717.0 229.8L710.9 228.7L705.6 226.6L699.7 225.3L693.7 224.0L687.8 222.6L682.4 217.3ZM700.8 183.8L705.5 179.8L709.1 177.5L712.7 175.1L708.9 180.3L705.7 182.4L702.5 184.5L700.8 183.8Z"/>
<path fill="#5a90c2" d="M721.1 452.9L724.6 447.6L729.1 448.6L733.5 449.5L737.0 444.2L740.5 438.9L741.2 431.3L745.2 429.1L749.1 426.9L754.1 428.3L759.1 429.7L763.8 428.0L768.5 426.3L773.6 419.5L778.2 417.6L782.8 415.6L786.0 409.5L789.2 403.3L794.3 401.9L799.4 400.4L799.1 392.9L805.1 392.2L808.4 395.6L811.7 398.9L816.7 400.4L821.7 401.9L828.1 399.8L834.6 397.7L838.9 401.0L843.2 404.3L847.4 412.7L851.5 421.2L858.4 424.2L854.3 428.9L850.2 433.6L846.1 438.3L840.3 442.9L834.5 447.5L828.6 452.0L820.9 453.3L813.2 454.4L805.5 455.6L797.7 456.7L790.0 457.8L782.3 458.9L774.5 459.9L766.8 460.9L759.0 461.8L751.3 462.8L743.5 463.7L743.1 459.2L736.2 460.9L729.1 462.6L722.1 464.2L715.1 465.8L720.8 462.9L720.9 457.9L721.1 452.9Z"/>
<path fill="#5a90c2" d="M715.1 465.8L722.1 464.2L729.1 462.6L736.2 460.9L743.1 459.2L743.5 463.7L751.3 462.8L759.0 461.8L766.8 460.9L774.5 459.9L782.3 458.9L790.0 457.8L797.7 456.7L805.5 455.6L813.2 454.4L820.9 453.3L828.6 452.0L835.1 451.2L841.6 450.4L848.1 449.5L854.6 448.6L861.0 447.7L867.5 446.8L868.0 452.8L865.1 456.4L862.1 460.0L856.9 462.0L851.7 464.0L846.0 466.0L841.0 473.0L835.5 477.0L830.8 479.8L826.1 482.5L823.6 488.0L821.1 493.4L814.6 494.1L808.2 494.8L801.8 495.5L795.3 496.2L788.0 497.0L780.6 497.7L773.2 498.5L765.8 499.2L758.4 499.9L751.0 500.5L743.6 501.1L736.7 501.7L729.7 502.2L722.7 502.7L715.7 503.2L708.7 503.7L701.7 504.1L705.5 501.4L706.6 495.7L707.8 490.0L709.9 484.3L712.0 478.5L714.5 470.9L715.1 465.8Z"/>
<path fill="#d5d5d5" d="M701.7 504.1L708.7 503.7L715.7 503.2L722.7 502.7L729.7 502.2L736.7 501.7L743.6 501.1L745.9 503.4L745.7 512.8L745.5 522.2L745.4 531.6L745.2 540.9L745.0 550.3L744.8 559.7L744.6 569.0L744.3 578.4L745.5 587.8L746.6 597.2L747.7 606.6L748.8 616.0L742.5 616.4L736.1 616.8L730.7 619.6L725.2 622.5L722.4 619.7L720.0 615.5L717.6 611.3L719.6 602.5L711.6 603.0L703.6 603.5L695.6 604.0L687.6 604.4L679.6 604.8L682.0 597.2L683.8 590.9L685.6 584.6L689.4 578.2L693.2 571.8L688.8 567.1L687.8 560.9L686.8 554.8L686.8 547.3L687.1 542.3L687.3 537.3L689.1 532.2L690.8 527.2L693.6 522.0L696.4 516.9L699.1 512.4L701.9 507.8L701.7 504.1Z"/>
<path fill="#d5d5d5" d="M743.6 501.1L751.0 500.5L758.4 499.9L765.8 499.2L773.2 498.5L780.6 497.7L788.0 497.0L795.3 496.2L797.7 504.8L800.1 513.4L802.6 522.0L805.0 530.6L807.5 539.2L809.9 547.8L812.6 554.7L815.2 561.5L815.7 570.2L816.2 578.8L817.6 586.2L819.0 593.5L811.2 594.4L803.4 595.2L795.6 596.1L787.8 596.9L780.0 597.6L772.2 598.4L764.4 599.1L766.9 603.2L769.4 607.3L767.7 616.7L762.6 617.8L757.6 619.0L758.2 613.6L758.8 608.2L755.8 609.7L755.3 617.2L748.8 616.0L747.7 606.6L746.6 597.2L745.5 587.8L744.3 578.4L744.6 569.0L744.8 559.7L745.0 550.3L745.2 540.9L745.4 531.6L745.5 522.2L745.7 512.8L745.9 503.4L743.6 501.1Z"/>
<path fill="#7aabd1" d="M795.3 496.2L801.8 495.5L808.2 494.8L814.6 494.1L821.1 493.4L827.1 492.6L833.1 491.8L839.1 490.9L845.1 490.0L841.3 498.1L846.2 500.2L851.0 502.3L854.9 507.8L858.7 513.3L863.4 517.6L868.2 522.0L873.7 524.4L879.1 529.5L884.6 534.6L886.4 539.3L888.1 544.1L891.6 549.8L895.2 555.5L901.2 556.3L899.2 562.1L897.1 567.8L895.5 574.3L893.8 580.8L894.2 590.3L888.4 590.8L882.6 591.3L883.0 601.0L879.1 596.3L871.0 597.0L863.0 597.7L854.9 598.3L846.9 598.9L838.8 599.5L830.8 600.0L822.8 600.5L819.0 593.5L817.6 586.2L816.2 578.8L815.7 570.2L815.2 561.5L812.6 554.7L809.9 547.8L807.5 539.2L805.0 530.6L802.6 522.0L800.1 513.4L797.7 504.8L795.3 496.2Z"/>
<path fill="#3b6eaf" d="M819.0 593.5L822.8 600.5L830.8 600.0L838.8 599.5L846.9 598.9L854.9 598.3L863.0 597.7L871.0 597.0L879.1 596.3L883.0 601.0L882.6 591.3L888.4 590.8L894.2 590.3L896.5 598.0L900.0 606.7L903.4 612.9L906.9 619.1L910.3 625.3L913.9 630.7L917.5 636.1L921.0 641.5L921.6 647.7L925.4 653.2L929.2 658.7L933.0 664.2L936.6 672.5L940.3 680.7L941.0 688.4L941.7 696.2L942.4 703.9L940.8 710.5L939.1 717.1L935.1 719.5L931.0 721.9L922.7 723.2L919.6 717.3L916.5 711.3L908.4 708.4L905.2 703.3L902.1 698.2L894.0 693.9L890.8 688.3L887.7 682.7L884.1 677.5L880.6 672.3L885.3 664.7L882.2 663.2L878.1 668.7L875.4 662.1L876.0 656.0L876.5 649.8L875.0 640.6L872.2 636.5L869.3 632.4L864.2 628.3L859.0 624.1L854.9 620.0L850.8 616.0L842.7 612.8L838.5 614.9L834.4 617.0L830.3 621.2L826.1 625.3L820.1 627.2L815.3 626.8L812.1 622.5L809.0 618.3L801.1 615.0L793.3 611.7L787.0 612.9L780.7 614.0L774.4 615.1L767.7 616.7L769.4 607.3L766.9 603.2L764.4 599.1L772.2 598.4L780.0 597.6L787.8 596.9L795.6 596.1L803.4 595.2L811.2 594.4L819.0 593.5ZM940.1 716.6L938.1 723.8L931.9 731.0L924.7 736.1L916.5 739.2L911.4 740.8L911.4 739.6L916.1 737.5L923.7 734.2L930.5 729.3L936.2 722.7L938.7 717.2Z"/>
<path fill="#3b6eaf" d="M901.2 556.3L895.2 555.5L891.6 549.8L888.1 544.1L886.4 539.3L884.6 534.6L879.1 529.5L873.7 524.4L868.2 522.0L863.4 517.6L858.7 513.3L854.9 507.8L851.0 502.3L846.2 500.2L841.3 498.1L845.1 490.0L850.2 487.7L855.3 485.3L860.4 482.9L866.7 482.2L873.0 481.6L879.3 481.0L885.6 480.3L885.9 482.8L887.9 481.2L892.0 487.6L899.3 486.6L906.6 485.5L913.9 484.4L920.5 489.2L927.1 494.0L933.8 498.7L940.5 503.4L936.7 508.0L932.9 512.6L931.6 517.3L930.4 521.9L926.9 525.7L923.4 529.5L918.3 536.6L913.8 540.6L909.2 544.5L904.8 550.2L901.2 556.3Z"/>
<path fill="#a6c8e0" d="M821.1 493.4L823.6 488.0L826.1 482.5L830.8 479.8L835.5 477.0L841.0 473.0L846.0 466.0L851.7 464.0L856.9 462.0L862.1 460.0L865.1 456.4L868.0 452.8L867.5 446.8L875.0 445.7L882.6 444.6L890.1 443.4L897.6 442.3L905.1 441.0L912.6 439.8L920.1 438.5L927.6 437.2L935.1 435.9L942.6 434.5L950.0 433.1L957.5 431.7L965.0 430.2L972.4 428.7L979.9 427.2L984.0 435.2L988.3 442.0L992.7 448.7L993.5 457.9L989.3 461.1L985.2 464.3L981.2 470.9L977.1 477.5L973.2 475.7L968.6 480.0L964.0 484.3L959.4 488.7L956.0 495.0L952.6 501.4L946.5 502.4L940.5 503.4L933.8 498.7L927.1 494.0L920.5 489.2L913.9 484.4L906.6 485.5L899.3 486.6L892.0 487.6L887.9 481.2L885.9 482.8L885.6 480.3L879.3 481.0L873.0 481.6L866.7 482.2L860.4 482.9L855.3 485.3L850.2 487.7L845.1 490.0L839.1 490.9L833.1 491.8L827.1 492.6L821.1 493.4Z"/>
<path fill="#d5d5d5" d="M828.6 452.0L834.5 447.5L840.3 442.9L846.1 438.3L850.2 433.6L854.3 428.9L858.4 424.2L861.6 428.0L864.8 431.8L869.3 430.8L873.8 429.7L879.8 427.0L885.1 423.0L890.3 418.9L892.7 412.8L895.1 406.8L896.8 399.1L898.4 391.5L902.9 392.4L907.4 393.2L909.8 388.7L912.2 384.3L916.5 380.5L920.9 376.8L919.0 367.0L924.5 369.4L930.0 371.8L931.1 366.7L935.9 370.4L940.6 373.8L945.3 374.9L944.2 378.9L941.5 384.0L943.5 388.4L949.9 390.2L956.9 392.6L963.0 394.6L965.8 399.4L965.0 404.9L967.1 410.3L965.8 414.4L969.9 418.7L974.7 420.7L978.7 425.4L979.9 427.2L972.4 428.7L965.0 430.2L957.5 431.7L950.0 433.1L942.6 434.5L935.1 435.9L927.6 437.2L920.1 438.5L912.6 439.8L905.1 441.0L897.6 442.3L890.1 443.4L882.6 444.6L875.0 445.7L867.5 446.8L861.0 447.7L854.6 448.6L848.1 449.5L841.6 450.4L835.1 451.2L828.6 452.0ZM974.7 391.1L976.1 396.7L974.6 403.6L975.0 411.7L976.5 412.4L976.7 405.0L978.7 396.6L982.2 389.5L974.7 391.1Z"/>
<path fill="#3b6eaf" d="M858.4 424.2L851.5 421.2L847.4 412.7L843.2 404.3L846.7 401.5L850.2 398.7L849.4 393.8L853.3 390.7L857.2 387.6L859.8 379.6L864.5 375.8L869.1 371.9L871.1 366.5L871.7 358.2L872.2 349.9L873.6 343.7L874.9 351.2L876.1 358.7L877.4 366.3L883.8 365.2L890.2 364.1L896.6 363.0L897.8 369.4L898.9 375.7L901.8 371.8L904.8 367.9L910.7 363.5L916.5 363.7L920.5 359.6L927.7 360.3L931.1 366.7L930.0 371.8L924.5 369.4L919.0 367.0L920.9 376.8L916.5 380.5L912.2 384.3L909.8 388.7L907.4 393.2L902.9 392.4L898.4 391.5L896.8 399.1L895.1 406.8L892.7 412.8L890.3 418.9L885.1 423.0L879.8 427.0L873.8 429.7L869.3 430.8L864.8 431.8L861.6 428.0L858.4 424.2Z"/>
<path fill="#7aabd1" d="M931.1 366.7L927.7 360.3L920.5 359.6L916.5 363.7L910.7 363.5L904.8 367.9L901.8 371.8L898.9 375.7L897.8 369.4L896.6 363.0L903.5 361.8L910.3 360.5L917.1 359.3L924.0 358.0L930.8 356.7L937.6 355.3L944.4 353.9L951.2 352.5L958.0 351.1L964.8 349.7L966.8 357.2L968.9 364.8L971.0 372.4L973.1 380.0L978.9 378.7L984.7 377.4L983.5 383.5L982.2 389.5L974.7 391.1L971.2 391.4L969.2 388.2L967.2 387.1L964.3 383.1L963.0 377.6L960.4 370.7L959.0 365.9L960.9 362.5L963.3 358.1L962.4 357.3L958.9 360.3L954.6 365.3L956.1 370.6L959.6 377.5L961.7 384.5L963.7 391.4L957.6 390.2L950.6 387.8L944.5 386.5L943.2 383.7L945.9 378.8L946.5 373.3L941.1 372.1L936.3 368.5L931.1 366.7Z"/>
<path fill="#1c418d" d="M964.8 349.7L967.6 346.0L971.1 346.2L970.5 350.2L970.3 354.1L973.3 358.5L977.1 365.3L982.0 370.6L984.7 377.4L978.9 378.7L973.1 380.0L971.0 372.4L968.9 364.8L966.8 357.2L964.8 349.7Z"/>
<path fill="#7aabd1" d="M975.7 305.4L972.9 311.0L970.1 316.6L972.2 319.2L970.8 324.6L976.4 329.2L982.0 334.9L978.7 340.5L975.1 344.9L971.1 346.2L970.5 350.2L972.1 352.4L976.7 356.7L982.2 358.8L984.6 359.8L984.8 364.9L986.9 360.6L989.0 356.3L991.4 351.9L993.8 347.5L995.4 340.4L994.5 332.2L993.7 325.0L989.6 324.7L991.4 319.9L992.1 310.8L986.6 309.0L981.2 307.2L975.7 305.4Z"/>
<path fill="#d5d5d5" d="M975.7 305.4L971.9 303.2L968.1 301.0L964.4 296.7L960.6 292.5L954.1 293.9L947.5 295.3L941.0 296.7L934.4 298.0L927.9 299.4L921.3 300.7L914.7 302.0L908.2 303.2L901.6 304.4L895.0 305.6L888.4 306.8L881.8 308.0L880.7 301.4L876.5 304.5L872.4 307.6L868.2 310.8L869.6 319.0L870.9 327.2L872.3 335.4L873.6 343.7L874.9 351.2L876.1 358.7L877.4 366.3L883.8 365.2L890.2 364.1L896.6 363.0L903.5 361.8L910.3 360.5L917.1 359.3L924.0 358.0L930.8 356.7L937.6 355.3L944.4 353.9L951.2 352.5L958.0 351.1L964.8 349.7L967.6 346.0L971.1 346.2L975.1 344.9L978.7 340.5L982.0 334.9L976.4 329.2L970.8 324.6L972.2 319.2L970.1 316.6L972.9 311.0L975.7 305.4Z"/>
<path fill="#7aabd1" d="M880.7 301.4L884.6 297.1L888.5 292.8L892.3 288.4L893.2 283.2L889.0 275.2L895.0 273.1L901.0 270.9L906.9 268.8L912.9 268.4L918.9 268.0L924.9 267.5L928.7 264.0L932.5 260.4L937.5 258.1L936.4 252.6L935.2 247.2L932.1 245.3L936.0 240.1L939.8 234.8L943.0 229.0L946.2 223.3L950.8 220.4L955.3 217.4L961.1 216.1L966.9 214.7L972.7 213.4L978.5 212.0L980.1 217.3L981.7 222.7L982.6 228.4L983.6 234.2L985.0 239.0L986.5 243.9L989.1 245.8L990.5 252.5L991.8 259.1L993.1 265.8L993.1 274.7L993.2 283.7L994.9 292.9L996.6 302.0L998.5 304.1L994.6 307.6L996.6 309.7L994.8 314.0L1000.8 311.3L1006.8 308.5L1011.2 307.1L1015.5 305.6L1019.9 300.1L1019.0 304.2L1023.6 302.1L1028.2 300.0L1023.2 304.2L1018.1 308.3L1013.8 311.2L1009.4 314.2L1005.1 317.2L999.4 319.3L993.7 321.4L991.7 320.6L992.6 317.1L992.1 310.8L986.6 309.0L981.2 307.2L975.7 305.4L971.9 303.2L968.1 301.0L964.4 296.7L960.6 292.5L954.1 293.9L947.5 295.3L941.0 296.7L934.4 298.0L927.9 299.4L921.3 300.7L914.7 302.0L908.2 303.2L901.6 304.4L895.0 305.6L888.4 306.8L881.8 308.0L880.7 301.4Z"/>
<path fill="#1c418d" d="M993.2 283.7L999.2 282.4L1005.2 281.0L1011.3 279.7L1017.3 278.3L1023.4 276.9L1025.2 284.1L1027.1 291.3L1026.9 294.0L1020.8 296.1L1014.7 298.3L1008.6 300.4L1002.6 305.1L996.6 309.7L994.6 307.6L998.5 304.1L996.6 302.0L994.9 292.9L993.2 283.7Z"/>
<path fill="#3b6eaf" d="M1023.4 276.9L1027.1 275.9L1030.8 274.9L1031.5 277.8L1036.0 281.8L1038.7 286.2L1034.9 288.5L1033.3 282.5L1033.1 289.0L1032.8 291.1L1026.9 294.0L1027.1 291.3L1025.2 284.1L1023.4 276.9Z"/>
<path fill="#3b6eaf" d="M993.1 265.8L997.9 264.8L1002.6 263.8L1007.4 262.8L1014.2 261.3L1021.0 259.8L1027.8 258.2L1028.4 257.0L1033.3 252.1L1035.1 251.9L1040.3 256.1L1036.1 261.2L1035.6 266.4L1041.5 267.4L1044.0 273.2L1047.8 276.5L1051.7 276.7L1055.7 274.3L1054.1 270.4L1051.3 268.6L1053.9 267.9L1056.3 271.0L1058.5 276.1L1052.4 279.4L1046.8 283.2L1040.8 285.6L1038.7 286.2L1036.0 281.8L1031.5 277.8L1030.8 274.9L1027.1 275.9L1023.4 276.9L1017.3 278.3L1011.3 279.7L1005.2 281.0L999.2 282.4L993.2 283.7L993.1 274.7L993.1 265.8Z"/>
<path fill="#3b6eaf" d="M978.5 212.0L984.8 210.4L991.0 208.8L997.3 207.1L1003.5 205.5L1009.7 203.8L1011.8 213.0L1009.4 217.7L1007.0 222.4L1006.0 228.3L1004.9 234.2L1005.2 240.0L1005.5 245.8L1005.3 252.7L1005.1 259.5L1007.4 262.8L1002.6 263.8L997.9 264.8L993.1 265.8L991.8 259.1L990.5 252.5L989.1 245.8L986.5 243.9L985.0 239.0L983.6 234.2L982.6 228.4L981.7 222.7L980.1 217.3L978.5 212.0Z"/>
<path fill="#7aabd1" d="M1009.7 203.8L1009.9 197.6L1015.0 195.0L1017.8 204.1L1020.6 213.2L1023.5 222.4L1026.4 231.5L1029.2 240.6L1033.6 246.4L1035.8 246.6L1035.1 251.9L1033.3 252.1L1028.4 257.0L1027.8 258.2L1021.0 259.8L1014.2 261.3L1007.4 262.8L1005.1 259.5L1005.3 252.7L1005.5 245.8L1005.2 240.0L1004.9 234.2L1006.0 228.3L1007.0 222.4L1009.4 217.7L1011.8 213.0L1009.7 203.8Z"/>
<path fill="#1c418d" d="M1015.0 195.0L1018.2 192.7L1021.4 190.4L1022.5 186.6L1023.9 182.2L1025.3 177.8L1023.9 170.1L1025.5 166.3L1025.2 161.4L1025.0 156.5L1026.7 151.6L1028.3 146.8L1030.2 141.3L1032.1 135.8L1034.9 135.2L1036.0 140.0L1041.0 139.1L1044.2 136.4L1047.5 133.8L1052.1 135.4L1056.7 136.9L1059.5 145.3L1062.2 153.7L1064.4 160.5L1066.6 167.4L1070.2 169.2L1073.8 171.0L1075.8 177.9L1082.6 180.0L1086.9 186.6L1083.5 193.4L1078.8 196.4L1073.9 202.1L1071.5 205.5L1069.1 208.9L1064.1 212.0L1060.4 210.5L1057.0 211.0L1057.3 215.8L1052.4 220.5L1047.7 226.5L1042.9 231.2L1040.0 238.0L1037.9 242.3L1035.8 246.6L1033.6 246.4L1029.2 240.6L1026.4 231.5L1023.5 222.4L1020.6 213.2L1017.8 204.1L1015.0 195.0Z"/>
<path fill="#1c418d" stroke="none" d="M189.2 599.4L205.1 679.6L209.7 679.6L212.0 678.3L212.9 680.6L217.9 684.2L223.8 687.4L227.0 683.3L228.4 679.6L231.1 679.2L232.5 681.5L238.0 684.7L243.5 689.7L248.9 695.6L252.6 699.7L259.0 700.7L263.1 701.6L265.4 707.5L264.0 711.6L260.8 711.2L257.2 713.0L254.4 714.8L250.8 712.5L248.0 707.5L245.3 703.8L241.6 702.9L238.0 699.3L234.3 696.5L230.2 692.9L230.7 690.6L225.2 689.2L221.5 686.5L216.1 683.3L211.5 681.5L207.8 682.4L202.4 681.5L197.8 681.9L193.2 682.4L188.7 681.5L183.2 681.5L179.5 683.3L176.8 686.0L172.2 686.5L167.6 689.2L164.0 691.5L160.3 692.9L160.3 688.3L162.2 683.8L163.1 680.6L167.6 678.7L168.6 677.4L167.2 675.5L163.1 676.0L162.2 676.9L158.5 681.0L155.8 686.5L152.1 690.1L149.4 693.3L150.7 696.5L149.4 700.2L146.6 703.8L142.1 707.0L139.3 709.8L135.7 712.1L129.3 715.7L129.3 718.5L126.5 720.3L120.1 723.0L116.5 723.5L109.2 727.1L103.7 729.0L97.8 730.5L97.8 730.0L102.8 727.8L108.3 725.6L111.9 722.4L117.4 721.0L122.0 716.9L126.5 714.6L130.2 711.0L134.3 706.6L135.7 701.1L137.5 696.5L133.8 697.5L128.4 698.4L126.5 695.2L122.0 693.3L116.5 695.2L116.0 691.5L117.4 689.2L114.7 683.8L108.3 684.7L105.5 679.6L103.7 677.4L104.6 672.8L101.9 668.2L104.6 664.6L106.9 660.9L110.6 657.6L116.4 657.2L124.2 653.7L125.1 646.9L120.3 643.1L108.7 643.1L105.7 638.2L101.9 632.4L108.7 629.5L116.4 627.5L118.4 632.4L124.2 632.4L127.1 630.8L124.2 626.6L120.3 621.7L118.4 616.9L116.4 614.0L112.5 611.0L113.5 608.1L120.3 607.2L126.1 598.4L135.8 593.6L143.6 590.7L147.5 593.6L155.2 594.6L164.9 597.5L174.6 599.4L182.4 597.9ZM148.0 709.8L150.3 707.5L153.9 705.2L155.8 702.0L158.5 701.6L158.1 704.8L157.6 707.5L155.3 710.7L152.1 713.4L149.8 714.6L148.5 712.1ZM83.4 646.9L86.3 647.9L90.6 651.8L91.2 653.3L88.3 652.2L84.4 648.9ZM94.6 680.6L99.1 679.6L100.5 681.9L98.2 683.3ZM83.8 735.2L88.3 733.9L89.3 735.2L85.4 736.6ZM76.6 735.8L79.5 735.4L79.9 736.6L77.0 737.0ZM41.7 737.7L45.0 737.5L45.2 738.7L41.9 738.9ZM24.3 735.6L27.2 735.4L27.4 736.4L24.4 736.6ZM58.2 737.2L61.7 736.8L61.9 737.7L58.4 738.1Z"/>
<path fill="none" stroke-width="1.3" d="M232.5 690.1L238.0 696.5L245.3 705.7L248.9 711.2M238.9 690.6L247.1 699.3L258.1 711.2M243.5 701.1L251.7 697.9"/>
<path fill="#3b6eaf" stroke="none" d="M381.5 706.9L397.9 714.2L407.3 725.2L391.0 735.1L386.8 739.9L381.6 735.2L378.1 719.2L382.7 713.0L381.5 706.9ZM362.9 689.8L373.3 689.7L379.6 694.6L369.9 698.8L362.9 693.4L362.9 689.8ZM349.0 686.1L362.9 684.4L359.4 687.3L350.1 686.6L349.0 686.1ZM354.8 691.0L359.4 692.2L358.3 694.7L354.8 693.4L354.8 691.0ZM326.3 674.5L333.3 671.1L340.9 681.2L337.4 682.4L330.5 681.1L326.3 674.5ZM298.3 658.1L302.9 660.1L302.8 665.0L299.3 666.9L292.4 664.4L291.8 661.2L298.3 658.1ZM282.0 664.8L285.5 663.6L284.3 667.3L280.8 668.9L282.0 664.8Z"/>
</svg>

<div class="abs" id="rpanel">
 <div class="abs" id="rhead"></div>
 <div class="abs" id="rfoot"></div>
</div>
<div class="sel" style="left:1197px;top:152px;width:1509px;height:67px"></div>
<div class="sel" style="left:1197px;top:296px;width:724px;height:67px"></div>
<div class="sel" style="left:1981.5px;top:296px;width:724.5px;height:67px"></div>
<div class="sel" style="left:1421px;top:833px;width:169px;height:68px"></div>

<div class="sw" style="top:433px;background:#1c418d"></div>
<div class="sw" style="top:481px;background:#3b6eaf"></div>
<div class="sw" style="top:529px;background:#5a90c2"></div>
<div class="sw" style="top:577px;background:#7aabd1"></div>
<div class="sw" style="top:625px;background:#a6c8e0"></div>
<div class="sw" style="top:673px;background:#c8d8ec"></div>
<div class="sw" style="top:720px;background:#d5d5d5"></div>

<div class="btn" style="left:1981px;top:427px;width:694px;height:72px;border-radius:8px 0 0 8px"></div>
<div class="btn" style="left:1979px;top:510.5px;width:694px;height:72.5px"></div>
<div class="btn" style="left:1979px;top:594px;width:694px;height:72.5px"></div>
<div class="btn" style="left:1979px;top:678px;width:694px;height:72.5px;border-radius:0 8px 8px 0"></div>

<div class="abs" id="bg1" style="left:2241px;top:833px;width:276px;height:74px;background:#34598b;border:2px solid #2c5384;border-radius:8px 0 0 8px;box-shadow:inset 0 6px 10px rgba(0,0,0,.125)"></div>
<div class="abs" id="bg2" style="left:2515px;top:833px;width:191px;height:74px;background:linear-gradient(#4677b3,#315e96);border:2px solid #2c5688;border-radius:0 8px 8px 0;box-shadow:inset 0 2px 0 rgba(255,255,255,.15),0 2px 2px rgba(0,0,0,.075)"></div>
<div class="t" id="tt1" style="left:31.76px;top:19.38px;font-size:45.5px;color:#555;letter-spacing:1.338px;transform:scaleX(1.04);-webkit-text-stroke:0.7px #555;">Contribution Limits</div>
<div class="t" id="tt2" style="left:518.96px;top:19.38px;font-size:45.5px;color:#3e78b5;letter-spacing:0.850px;transform:scaleX(1.04);-webkit-text-stroke:0.7px #3e78b5;">Other Restrictions</div>
<div class="t" id="tt3" style="left:983.76px;top:19.38px;font-size:45.5px;color:#3e78b5;letter-spacing:0.419px;transform:scaleX(1.04);-webkit-text-stroke:0.7px #3e78b5;">Disclosure</div>
<div class="t" id="tt4" style="left:1278.56px;top:19.38px;font-size:45.5px;color:#3e78b5;letter-spacing:0.273px;transform:scaleX(1.04);-webkit-text-stroke:0.7px #3e78b5;">Public Financing</div>
<div class="t" id="cfi1" style="left:1960.56px;top:19.38px;font-size:45.5px;color:#1c2a5e;letter-spacing:1.158px;transform:scaleX(1.04);-webkit-text-stroke:0.7px #1c2a5e;">Campaign Finance Institute</div>
<div class="t" id="l1" style="left:1198.75px;top:117.97px;font-size:33px;font-weight:bold;color:#2d2d2d;letter-spacing:0.075px;transform:scaleX(1.07);-webkit-text-stroke:1.4px #2d2d2d;">Donor</div>
<div class="t" id="s1" style="left:1223.56px;top:170.37px;font-size:33px;color:#555;letter-spacing:1.279px;transform:scaleX(1.04);-webkit-text-stroke:0.7px #555;">Individual (2 year period)</div>
<div class="t" id="l2" style="left:1198.75px;top:263.27px;font-size:33px;font-weight:bold;color:#2d2d2d;letter-spacing:0.556px;transform:scaleX(1.07);-webkit-text-stroke:1.4px #2d2d2d;">Recipient</div>
<div class="t" id="s2" style="left:1223.76px;top:314.07px;font-size:33px;color:#555;letter-spacing:0.341px;transform:scaleX(1.04);-webkit-text-stroke:0.7px #555;">Candidate</div>
<div class="t" id="l3" style="left:1983.55px;top:263.27px;font-size:33px;font-weight:bold;color:#2d2d2d;letter-spacing:1.203px;transform:scaleX(1.07);-webkit-text-stroke:1.4px #2d2d2d;">Branch (Recipient)</div>
<div class="t" id="s3" style="left:2008.36px;top:314.07px;font-size:33px;color:#555;letter-spacing:0.518px;transform:scaleX(1.04);-webkit-text-stroke:0.7px #555;">House/Assembly</div>
<div class="t" id="g1" style="left:1294.16px;top:435.13px;font-size:36px;color:#333;letter-spacing:0.729px;transform:scaleX(1.04);-webkit-text-stroke:0.7px #333;">$1,000 or less</div>
<div class="t" id="g2" style="left:1294.16px;top:483.23px;font-size:36px;color:#333;letter-spacing:1.261px;transform:scaleX(1.04);-webkit-text-stroke:0.7px #333;">$1,001 - $2,500</div>
<div class="t" id="g3" style="left:1294.16px;top:531.33px;font-size:36px;color:#333;letter-spacing:1.261px;transform:scaleX(1.04);-webkit-text-stroke:0.7px #333;">$2,501 - $5,000</div>
<div class="t" id="g4" style="left:1294.16px;top:579.43px;font-size:36px;color:#333;letter-spacing:1.265px;transform:scaleX(1.04);-webkit-text-stroke:0.7px #333;">$5,001 - $10,000</div>
<div class="t" id="g5" style="left:1294.16px;top:627.33px;font-size:36px;color:#333;letter-spacing:1.257px;transform:scaleX(1.04);-webkit-text-stroke:0.7px #333;">$10,001 - $50,000</div>
<div class="t" id="g6" style="left:1294.16px;top:675.23px;font-size:36px;color:#333;letter-spacing:1.095px;transform:scaleX(1.04);-webkit-text-stroke:0.7px #333;">$50,000 or greater</div>
<div class="t" id="g7" style="left:1292.36px;top:722.33px;font-size:36px;color:#333;letter-spacing:0.734px;transform:scaleX(1.04);-webkit-text-stroke:0.7px #333;">Unlimited</div>
<div class="t" id="b1" style="left:2204.56px;top:447.97px;font-size:33px;color:#333;letter-spacing:0.959px;transform:scaleX(1.04);-webkit-text-stroke:0.7px #333;text-shadow:0 2px 0 #fff;">About this topic</div>
<div class="t" id="b2" style="left:2202.56px;top:531.57px;font-size:33px;color:#333;letter-spacing:0.713px;transform:scaleX(1.04);-webkit-text-stroke:0.7px #333;text-shadow:0 2px 0 #fff;">Using this page</div>
<div class="t" id="b3" style="left:2168.56px;top:615.17px;font-size:33px;color:#333;letter-spacing:0.498px;transform:scaleX(1.04);-webkit-text-stroke:0.7px #333;text-shadow:0 2px 0 #fff;">Download Visible Data</div>
<div class="t" id="b4" style="left:2136.16px;top:698.47px;font-size:33px;color:#333;letter-spacing:0.583px;transform:scaleX(1.04);-webkit-text-stroke:0.7px #333;text-shadow:0 2px 0 #fff;">More Download Options</div>
<div class="t" id="f1" style="left:1198.95px;top:845.47px;font-size:33px;font-weight:bold;color:#2d2d2d;letter-spacing:1.059px;transform:scaleX(1.07);-webkit-text-stroke:1.4px #2d2d2d;">Select Year:</div>
<div class="t" id="f2" style="left:1447.96px;top:851.77px;font-size:33px;color:#555;letter-spacing:0.752px;transform:scaleX(1.04);-webkit-text-stroke:0.7px #555;">2018</div>
<div class="t" id="f3" style="left:2008.55px;top:848.27px;font-size:33px;font-weight:bold;color:#2d2d2d;letter-spacing:0.765px;transform:scaleX(1.07);-webkit-text-stroke:1.4px #2d2d2d;">Grid sorting:</div>
<div class="t" id="f4" style="left:2269.16px;top:854.17px;font-size:33px;color:#fff;letter-spacing:0.474px;transform:scaleX(1.04);-webkit-text-stroke:0.7px #fff;text-shadow:0 -2px 0 rgba(0,0,0,.2);">Alphabetically</div>
<div class="t" id="f5" style="left:2541.16px;top:854.17px;font-size:33px;color:#fff;letter-spacing:0.541px;transform:scaleX(1.04);-webkit-text-stroke:0.7px #fff;text-shadow:0 -2px 0 rgba(0,0,0,.2);">By Value</div>
<svg width="2742" height="932" viewBox="0 0 2742 932" style="pointer-events:none">
<g fill="none" stroke="#444" stroke-width="3.2" stroke-linecap="round" stroke-linejoin="round">
<path d="M2679.2 183.5l6.8 6.8l6.8-6.8"/><path d="M1894.2 327.5l6.8 6.8l6.8-6.8"/><path d="M2679.2 327.5l6.8 6.8l6.8-6.8"/><path d="M1563.2 864.8l6.8 6.8l6.8-6.8"/>
</g>
<g fill="#1c2756">
<path d="M2638.6 21.1A24.9 24.9 0 1 0 2640.6 59.1L2635.5 51.4A14.6 14.6 0 1 1 2633.4 29.3Z"/>
<path d="M2649.3 16.9H2680.7V25.6H2660.6V39H2679.1V48.1H2660.6V64.9H2649.3Z"/>
<path d="M2690.1 16.9H2701.7V64.9H2690.1Z"/>
</g>
<g fill="#333">
<path d="M2137.2 616.5h7.2v9.5h7.6l-11.2 11.5l-11.2-11.5h7.6z"/>
<path d="M2128 635.4h6.5l6.3 6.2l6.3-6.2h6.5a2.3 2.3 0 0 1 2.3 2.3v4a2.3 2.3 0 0 1-2.3 2.3h-25.6a2.3 2.3 0 0 1-2.3-2.3v-4a2.3 2.3 0 0 1 2.3-2.3zM2146 639.5a1.3 1.3 0 1 0 .01 0zM2151 639.5a1.3 1.3 0 1 0 .01 0z" fill-rule="evenodd"/>
</g>
</svg>
</body></html>
